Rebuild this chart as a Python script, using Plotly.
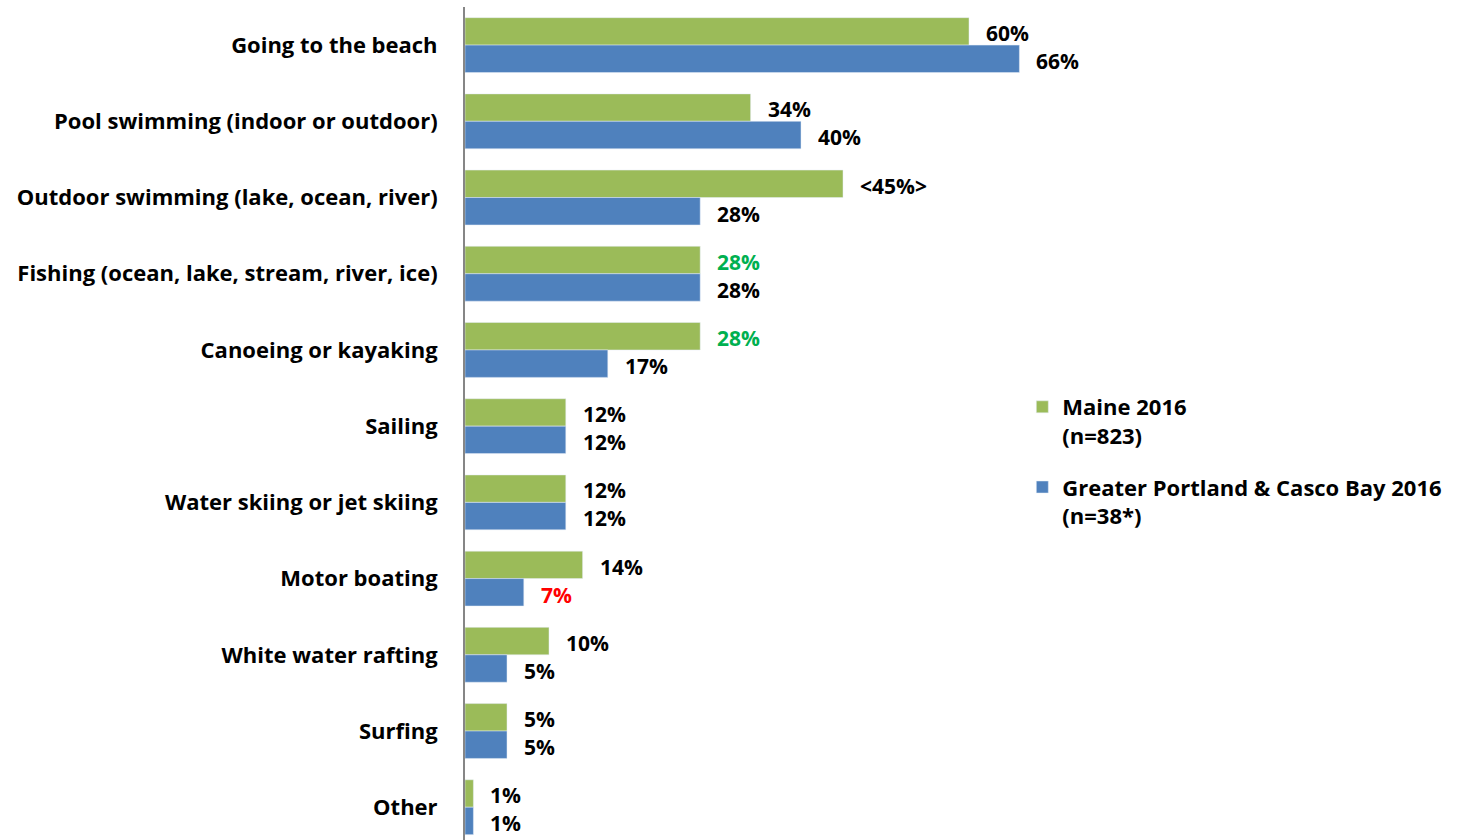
import plotly.graph_objects as go

# Survey results: share of respondents taking part in each water activity
categories = [
    "Going to the beach",
    "Pool swimming (indoor or outdoor)",
    "Outdoor swimming (lake, ocean, river)",
    "Fishing (ocean, lake, stream, river, ice)",
    "Canoeing or kayaking",
    "Sailing",
    "Water skiing or jet skiing",
    "Motor boating",
    "White water rafting",
    "Surfing",
    "Other",
]
maine_2016 = [60, 34, 45, 28, 28, 12, 12, 14, 10, 5, 1]
portland_2016 = [66, 40, 28, 28, 17, 12, 12, 7, 5, 5, 1]

maine_labels = ["60%", "34%", "<45%>", "28%", "28%", "12%", "12%", "14%", "10%", "5%", "1%"]
portland_labels = ["66%", "40%", "28%", "28%", "17%", "12%", "12%", "7%", "5%", "5%", "1%"]

# Highlight colours for notable differences
maine_label_colors = ["#000000"] * 3 + ["#00B050", "#00B050"] + ["#000000"] * 6
portland_label_colors = ["#000000"] * 7 + ["#FF0000"] + ["#000000"] * 3

GREEN = "#9BBB59"
BLUE = "#4F81BD"
FONT = "Open Sans"

fig = go.Figure()
fig.add_trace(go.Bar(
    y=categories, x=maine_2016, orientation="h",
    name="Maine 2016<br>(n=823)", marker_color=GREEN,
    legendgroup="a",
))
fig.add_trace(go.Bar(
    y=categories, x=portland_2016, orientation="h",
    name="Greater Portland & Casco Bay 2016<br>(n=38*)", marker_color=BLUE,
    legendgroup="b",
))

annotations = []
for i, cat in enumerate(categories):
    for val, lab, col, shift in (
        (maine_2016[i], maine_labels[i], maine_label_colors[i], 12),
        (portland_2016[i], portland_labels[i], portland_label_colors[i], -16),
    ):
        annotations.append(dict(
            x=val, y=cat, xref="x", yref="y",
            text=lab, showarrow=False,
            xanchor="left", yanchor="middle",
            xshift=15, yshift=shift, height=26,
            font=dict(family=FONT, size=21, color=col, weight="bold"),
        ))

fig.update_layout(
    width=1462, height=840,
    margin=dict(l=465, r=0, t=7, b=0),
    paper_bgcolor="white", plot_bgcolor="white",
    barmode="group", bargap=0.28, bargroupgap=0,
    font=dict(family=FONT, size=22, color="#000000", weight="bold"),
    showlegend=True,
    legend=dict(
        x=0.559, y=0.545, xanchor="left", yanchor="top",
        valign="top", tracegroupgap=20,
        font=dict(family=FONT, size=22, color="#000000", weight="bold"),
        itemwidth=30,
    ),
    xaxis=dict(
        range=[0, 997 / 8.4], visible=False, showgrid=False, zeroline=False,
    ),
    yaxis=dict(
        type="category", categoryorder="array", categoryarray=categories,
        range=[10.43, -0.5],
        showline=True, linecolor="#868686", linewidth=2,
        showgrid=False, ticks="", ticklabelstandoff=21,
        tickfont=dict(family=FONT, size=22, color="#000000", weight="bold"),
    ),
    annotations=annotations,
)

fig.write_html("out.html")
